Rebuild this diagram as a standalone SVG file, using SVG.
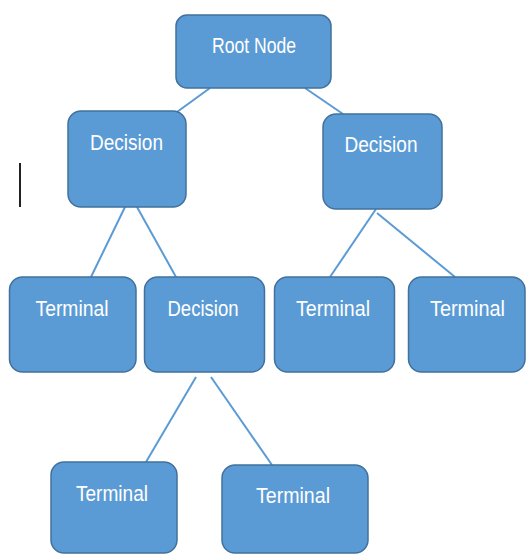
<svg xmlns="http://www.w3.org/2000/svg" width="526" height="554" viewBox="0 0 526 554">
<style>
.n rect{fill:#5B9BD5;stroke:#41719C;stroke-width:1.5}
.n text{fill:#fff;font-family:"Liberation Sans",Arial,sans-serif;font-size:22px;text-anchor:middle}
.c line{stroke:#5B9BD5;stroke-width:2}
</style>
<rect width="526" height="554" fill="#fff"/>
<g class="c" id="connectors">
<line x1="210" y1="88" x2="177" y2="112"/>
<line x1="305" y1="88" x2="343" y2="114"/>
<line x1="125" y1="207" x2="91" y2="277"/>
<line x1="137" y1="207" x2="176" y2="277"/>
<line x1="376" y1="209" x2="330" y2="277"/>
<line x1="377" y1="213" x2="455" y2="277"/>
<line x1="196" y1="377" x2="146" y2="462"/>
<line x1="211" y1="377" x2="272" y2="465"/>
</g>
<line x1="20" y1="163" x2="20" y2="207" stroke="#222" stroke-width="2"/>
<g class="n" id="root"><rect x="176" y="15" width="155" height="73" rx="11"/><text x="254" y="53" textLength="84" lengthAdjust="spacingAndGlyphs">Root Node</text></g>
<g class="n" id="decision1"><rect x="68" y="111" width="118" height="96" rx="13"/><text x="126.5" y="150" textLength="73" lengthAdjust="spacingAndGlyphs">Decision</text></g>
<g class="n" id="decision2"><rect x="323" y="114" width="119" height="95" rx="13"/><text x="381" y="152" textLength="73" lengthAdjust="spacingAndGlyphs">Decision</text></g>
<g class="n" id="terminal1"><rect x="9.5" y="277" width="126.5" height="95" rx="13"/><text x="72" y="316" textLength="73" lengthAdjust="spacingAndGlyphs">Terminal</text></g>
<g class="n" id="decision3"><rect x="144.5" y="277" width="120" height="95" rx="13"/><text x="203" y="316" textLength="71" lengthAdjust="spacingAndGlyphs">Decision</text></g>
<g class="n" id="terminal2"><rect x="274.5" y="277" width="120" height="95" rx="13"/><text x="333" y="316" textLength="74" lengthAdjust="spacingAndGlyphs">Terminal</text></g>
<g class="n" id="terminal3"><rect x="408.5" y="277" width="116.5" height="95" rx="13"/><text x="467.5" y="316" textLength="75" lengthAdjust="spacingAndGlyphs">Terminal</text></g>
<g class="n" id="terminal4"><rect x="51" y="462" width="126" height="91" rx="13"/><text x="112" y="501" textLength="72" lengthAdjust="spacingAndGlyphs">Terminal</text></g>
<g class="n" id="terminal5"><rect x="222" y="465" width="146" height="88" rx="13"/><text x="293" y="503" textLength="74" lengthAdjust="spacingAndGlyphs">Terminal</text></g>
</svg>
